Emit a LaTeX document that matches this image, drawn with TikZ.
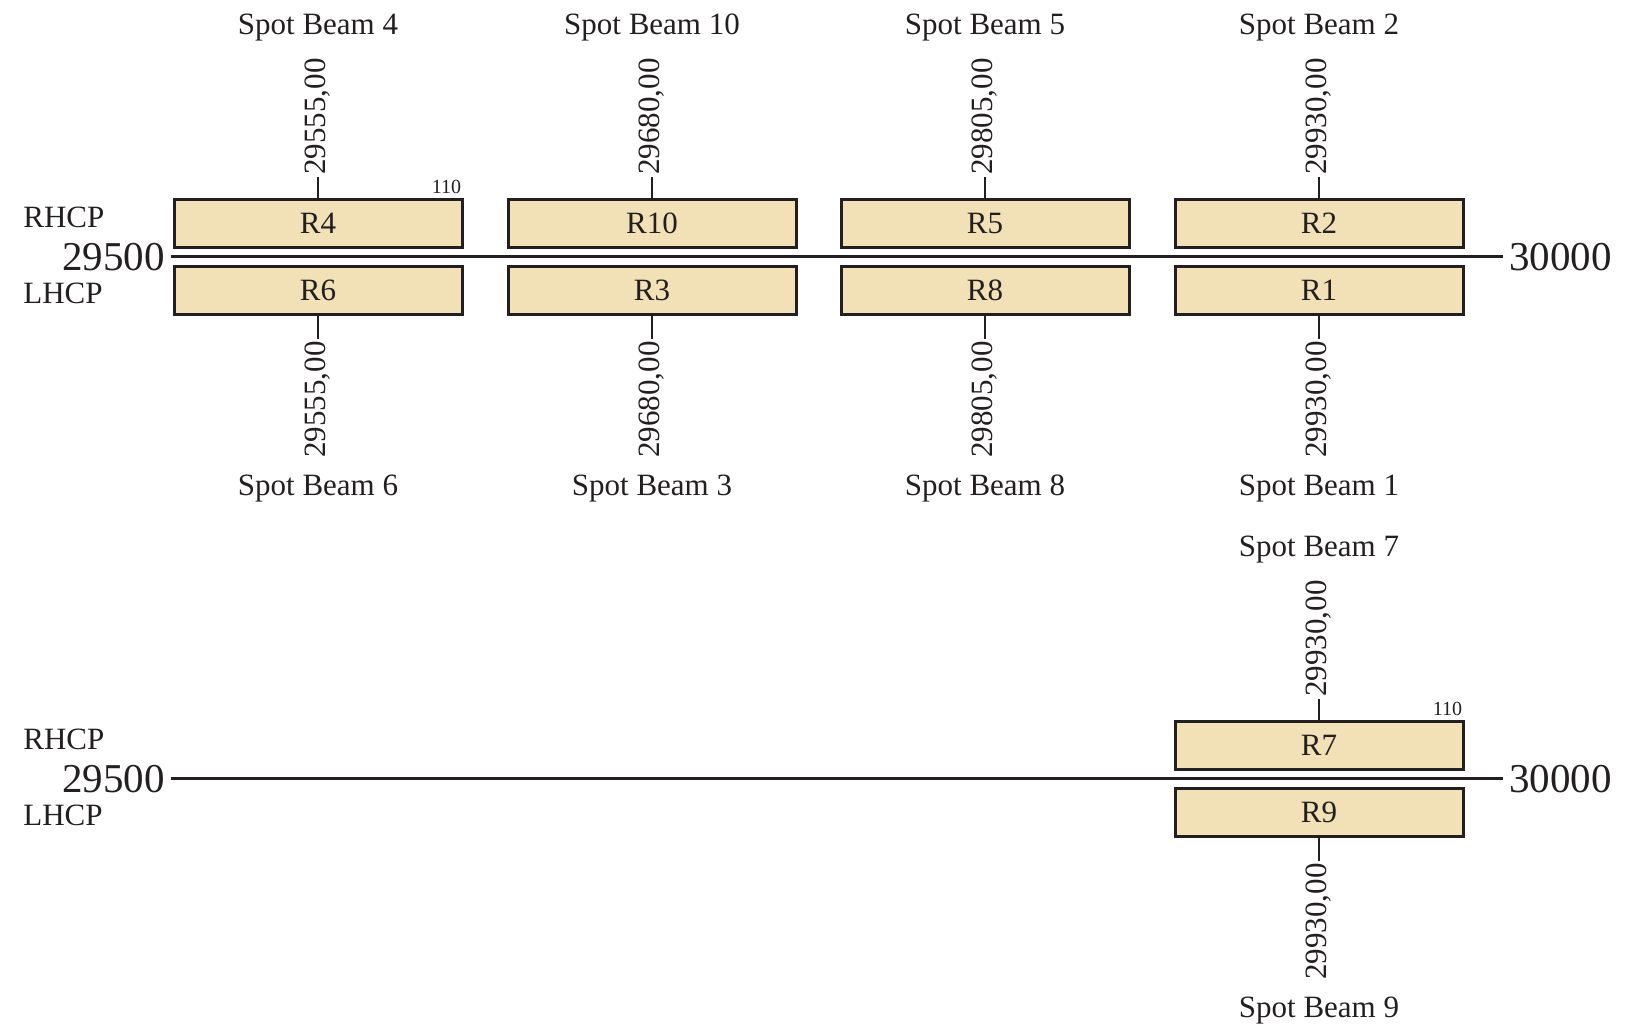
\documentclass[tikz,border=0pt]{standalone}
\usepackage{fontspec}
\setmainfont{Liberation Serif}
\definecolor{chanfill}{RGB}{242,224,182}
\definecolor{ink}{RGB}{35,31,32}
\tikzset{
	chan/.style={draw=ink,line width=1.5pt,fill=chanfill,minimum width=144pt,minimum height=24pt,inner sep=0pt,text=ink,font=\fontsize{15.5}{18}\selectfont},
	freq/.style={rotate=90,inner sep=1pt,text=ink,font=\fontsize{15.5}{18}\selectfont},
	beam/.style={anchor=base,inner sep=0pt,text=ink,font=\fontsize{15.5}{18}\selectfont},
	pol/.style={anchor=base west,inner sep=0pt,text=ink,font=\fontsize{15.5}{18}\selectfont},
	band/.style={inner xsep=3pt,inner ysep=0pt,text=ink,font=\fontsize{20.5}{24}\selectfont},
	note/.style={anchor=base east,inner sep=0pt,text=ink,font=\fontsize{10}{12}\selectfont},
	stem/.style={draw=ink,line width=1.25pt},
	axis/.style={draw=ink,line width=1.5pt}
}

\begin{document}
\begin{tikzpicture}[x=0.5pt,y=-0.5pt]
	\useasboundingbox (0,0) rectangle (1626,1033);
	% first band
	\node[pol] (rh1) at (23,227) {RHCP};
	\node[pol] (lh1) at (23,303) {LHCP};
	\node[band,anchor=base east] (lo1) at (171,270) {29500};
	\node[band,anchor=base west] (hi1) at (1503,270) {30000};
	\draw[axis] (lo1.east) -- (hi1.west);
	\foreach \x/\u/\l/\f in {318/4/6/29555, 652/10/3/29680, 985/5/8/29805, 1319/2/1/29930}{
		\node[chan] (r\u) at (\x,223.5) {R\u};
		\node[chan] (r\l) at (\x,290) {R\l};
		\node[freq,anchor=west] (f\u) at (\x,177) {\f,00};
		\node[freq,anchor=east] (f\l) at (\x,339) {\f,00};
		\node[beam] (b\u) at (\x,34) {Spot Beam \u};
		\node[beam] (b\l) at (\x,495) {Spot Beam \l};
		\draw[stem] (r\u.north) -- (f\u.west);
		\draw[stem] (r\l.south) -- (f\l.east);
	}
	\node[note] (n4) at ([shift={(-2,-4.5)}]r4.north east) {110};
	% second band
	\begin{scope}[shift={(0,522)}]
		\node[pol] (rh2) at (23,227) {RHCP};
		\node[pol] (lh2) at (23,303) {LHCP};
		\node[band,anchor=base east] (lo2) at (171,270) {29500};
		\node[band,anchor=base west] (hi2) at (1503,270) {30000};
		\draw[axis] (lo2.east) -- (hi2.west);
		\node[chan] (r7) at (1319,223.5) {R7};
		\node[chan] (r9) at (1319,290) {R9};
		\node[freq,anchor=west] (f7) at (1319,177) {29930,00};
		\node[freq,anchor=east] (f9) at (1319,339) {29930,00};
		\node[beam] (b7) at (1319,34) {Spot Beam 7};
		\node[beam] (b9) at (1319,495) {Spot Beam 9};
		\draw[stem] (r7.north) -- (f7.west);
		\draw[stem] (r9.south) -- (f9.east);
		\node[note] (n7) at ([shift={(-2,-4.5)}]r7.north east) {110};
	\end{scope}
\end{tikzpicture}
\end{document}
